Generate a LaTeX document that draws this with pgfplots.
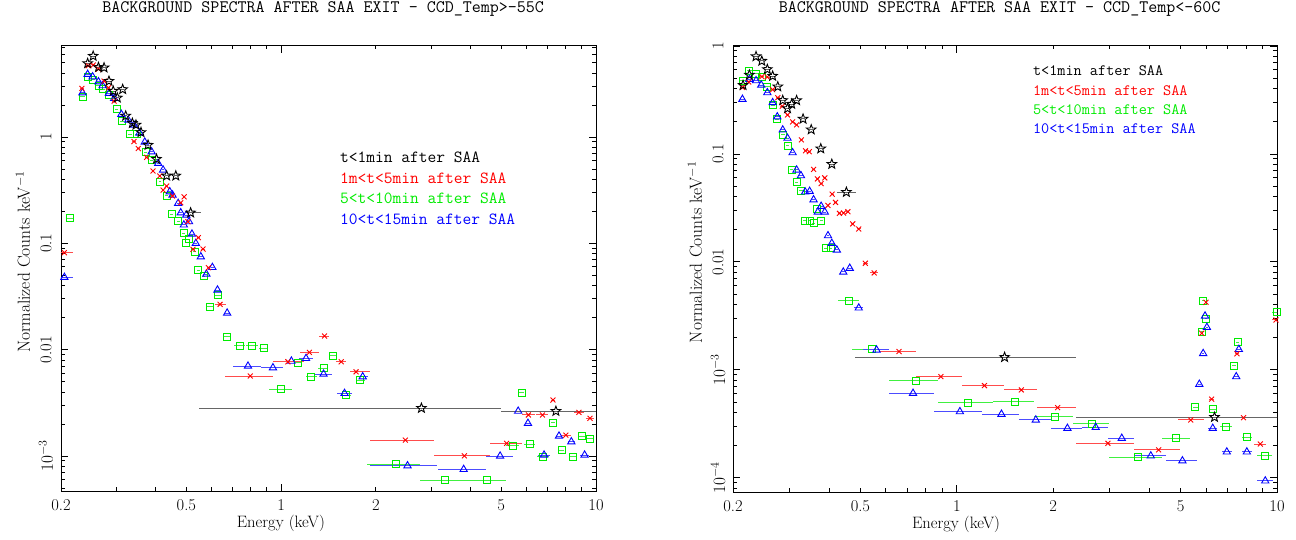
\documentclass[border=0pt]{standalone}
\usepackage{pgfplots}
\pgfplotsset{compat=1.18}
\usepackage{pgfplotstable}
\usetikzlibrary{plotmarks}

\definecolor{pred}{RGB}{255,0,0}
\definecolor{pgreen}{RGB}{0,235,0}
\definecolor{pblue}{RGB}{0,0,255}

\pgfdeclareplotmark{ostar}{%
  \pgfpathmoveto{\pgfpointpolar{90}{\pgfplotmarksize}}%
  \pgfpathlineto{\pgfpointpolar{126}{0.42*\pgfplotmarksize}}%
  \pgfpathlineto{\pgfpointpolar{162}{\pgfplotmarksize}}%
  \pgfpathlineto{\pgfpointpolar{198}{0.42*\pgfplotmarksize}}%
  \pgfpathlineto{\pgfpointpolar{234}{\pgfplotmarksize}}%
  \pgfpathlineto{\pgfpointpolar{270}{0.42*\pgfplotmarksize}}%
  \pgfpathlineto{\pgfpointpolar{306}{\pgfplotmarksize}}%
  \pgfpathlineto{\pgfpointpolar{342}{0.42*\pgfplotmarksize}}%
  \pgfpathlineto{\pgfpointpolar{18}{\pgfplotmarksize}}%
  \pgfpathlineto{\pgfpointpolar{54}{0.42*\pgfplotmarksize}}%
  \pgfpathclose
  \pgfusepathqstroke
}

% ---------------- LEFT PANEL DATA ----------------
\pgfplotstableread{
x y em ep
0.243 4.93 0.004 0.004
0.253 5.78 0.004 0.004
0.263 4.53 0.004 0.004
0.274 4.49 0.004 0.004
0.284 3.36 0.004 0.004
0.293 2.71 0.004 0.004
0.302 2.34 0.004 0.004
0.314 2.81 0.004 0.004
0.321 1.58 0.004 0.004
0.337 1.35 0.004 0.004
0.346 1.30 0.004 0.004
0.359 1.107 0.004 0.004
0.378 0.841 0.004 0.004
0.402 0.621 0.004 0.004
0.433 0.432 0.006 0.006
0.463 0.432 0.006 0.006
0.516 0.194 0.016 0.042
2.79 2.82e-3 2.24 2.21
7.46 2.64e-3 2.46 2.54
}\LBk

\pgfplotstableread{
x y em ep
0.205 0.0816 0.013 0.013
0.233 2.87 0.004 0.004
0.244 4.69 0.004 0.004
0.253 4.76 0.004 0.004
0.263 4.36 0.004 0.004
0.274 3.36 0.004 0.004
0.283 2.91 0.004 0.004
0.295 2.18 0.004 0.004
0.341 0.907 0.004 0.004
0.352 0.78 0.004 0.004
0.374 0.644 0.004 0.004
0.392 0.479 0.004 0.004
0.412 0.43 0.004 0.004
0.422 0.317 0.004 0.004
0.433 0.346 0.004 0.004
0.452 0.279 0.005 0.005
0.48 0.241 0.005 0.005
0.492 0.274 0.005 0.005
0.506 0.16 0.005 0.005
0.525 0.0879 0.006 0.006
0.546 0.113 0.006 0.006
0.565 0.0884 0.007 0.007
0.588 0.059 0.008 0.008
0.64 0.0267 0.025 0.027
0.798 5.65e-3 0.133 0.144
1.051 7.69e-3 0.11 0.13
1.23 9.44e-3 0.086 0.094
1.374 0.01343 0.05 0.05
1.552 7.69e-3 0.06 0.06
1.73 6.19e-3 0.08 0.18
2.48 1.41e-3 0.57 0.57
3.82 1.004e-3 0.77 0.78
5.2 1.315e-3 0.6 0.61
6.1 2.43e-3 0.3 0.3
6.76 2.43e-3 0.3 0.3
7.3 3.36e-3 0.1 0.1
8.02 1.57e-3 0.3 0.3
8.83 2.57e-3 0.3 0.3
9.57 2.26e-3 0.3 0.3
}\LRd

\pgfplotstableread{
x y em ep
0.214 0.172 0.006 0.006
0.234 2.39 0.004 0.004
0.243 3.69 0.004 0.004
0.253 3.44 0.004 0.004
0.263 3.04 0.004 0.004
0.272 2.81 0.004 0.004
0.283 2.48 0.004 0.004
0.300 1.82 0.004 0.004
0.313 1.41 0.004 0.004
0.331 1.06 0.004 0.004
0.348 1.06 0.004 0.004
0.371 0.718 0.004 0.004
0.388 0.608 0.004 0.004
0.412 0.38 0.004 0.004
0.433 0.279 0.004 0.004
0.449 0.1875 0.005 0.005
0.471 0.162 0.005 0.005
0.491 0.124 0.005 0.005
0.51 0.109 0.005 0.005
0.50 0.101 0.005 0.005
0.532 0.0834 0.006 0.006
0.545 0.0561 0.006 0.006
0.568 0.0492 0.007 0.007
0.596 0.0253 0.015 0.015
0.63 0.0326 0.015 0.015
0.675 0.0132 0.02 0.02
0.738 0.01088 0.03 0.03
0.81 0.01088 0.035 0.035
0.88 0.01028 0.03 0.03
1.0 4.23e-3 0.086 0.086
1.13 7.53e-3 0.03 0.03
1.246 5.56e-3 0.05 0.05
1.364 6.67e-3 0.05 0.05
1.46 8.76e-3 0.04 0.04
1.61 3.74e-3 0.06 0.06
1.786 5.18e-3 0.06 0.06
2.32 8.34e-4 0.45 0.44
3.31 5.93e-4 0.55 0.55
4.52 5.93e-4 0.66 0.65
5.43 1.248e-3 0.25 0.25
5.8 3.93e-3 0.1 0.1
6.17 1.29e-3 0.25 0.25
6.8 9.83e-4 0.3 0.3
7.32 2.05e-3 0.1 0.1
7.78 1.136e-3 0.15 0.15
8.47 9.83e-4 0.25 0.25
9.04 1.54e-3 0.2 0.2
9.58 1.46e-3 0.2 0.2
}\LGr

\pgfplotstableread{
x y em ep
0.205 0.0479 0.013 0.013
0.234 2.61 0.004 0.004
0.243 3.89 0.004 0.004
0.252 3.69 0.004 0.004
0.263 3.31 0.004 0.004
0.271 3.04 0.004 0.004
0.284 2.58 0.004 0.004
0.295 2.31 0.004 0.004
0.311 1.635 0.004 0.004
0.327 1.445 0.004 0.004
0.341 1.297 0.004 0.004
0.355 1.09 0.004 0.004
0.369 0.897 0.004 0.004
0.388 0.727 0.004 0.004
0.407 0.566 0.004 0.004
0.422 0.49 0.004 0.004
0.443 0.306 0.005 0.005
0.452 0.285 0.005 0.005
0.471 0.238 0.005 0.005
0.48 0.194 0.005 0.005
0.50 0.1846 0.005 0.005
0.491 0.149 0.005 0.005
0.51 0.16 0.005 0.005
0.521 0.1223 0.006 0.006
0.536 0.1 0.006 0.006
0.556 0.0748 0.007 0.007
0.605 0.0594 0.008 0.008
0.579 0.0514 0.008 0.008
0.628 0.0364 0.01 0.01
0.674 0.0221 0.015 0.015
0.785 7.01e-3 0.083 0.081
0.942 6.76e-3 0.076 0.07
1.078 7.8e-3 0.05 0.05
1.20 8.28e-3 0.06 0.06
1.364 5.89e-3 0.09 0.09
1.59 3.88e-3 0.09 0.09
1.816 5.56e-3 0.07 0.07
2.52 8.09e-4 0.61 0.6
3.8 7.48e-4 0.66 0.67
4.96 9.98e-4 0.49 0.49
5.66 2.64e-3 0.12 0.12
6.08 2.03e-3 0.15 0.15
6.84 1.02e-3 0.3 0.3
7.63 1.54e-3 0.15 0.15
8.35 1.36e-3 0.2 0.2
9.2 1.02e-3 0.3 0.3
}\LBl

% ---------------- RIGHT PANEL DATA ----------------
\pgfplotstableread{
x y em ep
0.215 0.433 0.004 0.004
0.225 0.539 0.004 0.004
0.236 0.80 0.004 0.004
0.246 0.726 0.004 0.004
0.256 0.608 0.004 0.004
0.266 0.527 0.004 0.004
0.276 0.42 0.004 0.004
0.286 0.314 0.004 0.004
0.296 0.264 0.004 0.004
0.305 0.29 0.004 0.004
0.316 0.313 0.004 0.004
0.331 0.211 0.005 0.005
0.351 0.168 0.005 0.005
0.376 0.112 0.006 0.006
0.407 0.0805 0.008 0.008
0.452 0.0443 0.029 0.032
1.41 1.31e-3 0.93 0.94
6.38 3.65e-4 4.03 4.02
}\RBk

\pgfplotstableread{
x y em ep
0.214 0.413 0.004 0.004
0.224 0.464 0.004 0.004
0.246 0.52 0.004 0.004
0.256 0.516 0.004 0.004
0.266 0.394 0.004 0.004
0.276 0.332 0.004 0.004
0.285 0.277 0.004 0.004
0.296 0.23 0.004 0.004
0.307 0.198 0.004 0.004
0.316 0.186 0.004 0.004
0.327 0.135 0.004 0.004
0.337 0.107 0.004 0.004
0.346 0.105 0.004 0.004
0.357 0.0719 0.004 0.004
0.367 0.0587 0.004 0.004
0.377 0.0531 0.004 0.004
0.387 0.06 0.004 0.004
0.396 0.0334 0.004 0.004
0.408 0.0424 0.004 0.004
0.418 0.0356 0.004 0.004
0.43 0.0282 0.005 0.005
0.443 0.0284 0.005 0.005
0.457 0.0292 0.005 0.005
0.473 0.0225 0.006 0.006
0.494 0.0202 0.007 0.007
0.518 9.72e-3 0.01 0.01
0.552 7.91e-3 0.015 0.015
0.66 1.48e-3 0.085 0.085
0.892 8.67e-4 0.146 0.146
1.22 7.16e-4 0.18 0.18
1.59 6.53e-4 0.19 0.19
2.065 4.48e-4 0.285 0.285
2.965 2.09e-4 0.615 0.615
4.27 1.82e-4 0.69 0.7
5.38 3.44e-4 0.48 0.52
5.82 2.19e-3 0.05 0.05
6.0 4.23e-3 0.05 0.05
6.25 5.36e-4 0.1 0.1
7.5 1.41e-3 0.1 0.1
7.86 3.61e-4 0.4 0.4
8.87 2.06e-4 0.4 0.4
9.93 2.9e-3 0.3 0.3
}\RRd

\pgfplotstableread{
x y em ep
0.215 0.474 0.004 0.004
0.225 0.587 0.004 0.004
0.236 0.551 0.004 0.004
0.246 0.522 0.004 0.004
0.256 0.417 0.004 0.004
0.266 0.284 0.004 0.004
0.275 0.21 0.004 0.004
0.286 0.15 0.004 0.004
0.296 0.119 0.004 0.004
0.305 0.0711 0.004 0.004
0.316 0.0547 0.004 0.004
0.326 0.0456 0.004 0.004
0.336 0.024 0.004 0.004
0.347 0.024 0.004 0.004
0.357 0.0228 0.004 0.004
0.366 0.0312 0.004 0.004
0.377 0.024 0.004 0.004
0.391 0.0134 0.005 0.005
0.404 0.0134 0.005 0.005
0.46 4.38e-3 0.034 0.034
0.5425 1.55e-3 0.0715 0.0715
0.744 7.91e-4 0.13 0.13
1.087 4.98e-4 0.213 0.213
1.52 5.08e-4 0.22 0.22
2.025 3.7e-4 0.285 0.285
2.645 3.16e-4 0.335 0.335
3.67 1.56e-4 0.69 0.69
4.845 2.33e-4 0.485 0.485
5.55 4.52e-4 0.1 0.1
5.82 2.27e-3 0.05 0.05
5.89 4.38e-3 0.05 0.05
6.0 2.97e-3 0.05 0.05
6.32 4.33e-4 0.15 0.15
6.92 2.98e-4 0.3 0.3
7.36 1.09e-3 0.1 0.1
7.53 1.8e-3 0.1 0.1
8.05 2.37e-4 0.3 0.3
9.14 1.6e-4 0.5 0.5
9.97 3.42e-3 0.3 0.3
}\RGr

\pgfplotstableread{
x y em ep
0.214 0.321 0.004 0.004
0.225 0.492 0.004 0.004
0.236 0.477 0.004 0.004
0.245 0.435 0.004 0.004
0.256 0.37 0.004 0.004
0.266 0.299 0.004 0.004
0.275 0.221 0.004 0.004
0.286 0.167 0.004 0.004
0.296 0.14 0.004 0.004
0.307 0.1028 0.004 0.004
0.316 0.0711 0.004 0.004
0.326 0.063 0.004 0.004
0.336 0.0445 0.004 0.004
0.347 0.0451 0.004 0.004
0.357 0.0377 0.004 0.004
0.368 0.029 0.004 0.004
0.377 0.0328 0.004 0.004
0.387 0.029 0.004 0.004
0.396 0.0175 0.004 0.004
0.407 0.0149 0.005 0.005
0.422 0.0129 0.005 0.005
0.442 8.07e-3 0.005 0.005
0.463 8.75e-3 0.006 0.006
0.494 3.75e-3 0.015 0.015
0.5615 1.53e-3 0.0505 0.0505
0.73 6.08e-4 0.118 0.118
1.0225 4.11e-4 0.1745 0.1745
1.3785 3.89e-4 0.1815 0.1815
1.765 3.44e-4 0.205 0.205
2.215 2.88e-4 0.245 0.245
2.715 2.94e-4 0.255 0.255
3.275 2.33e-4 0.305 0.305
4.035 1.6e-4 0.455 0.455
5.065 1.44e-4 0.575 0.575
5.72 7.37e-4 0.05 0.05
5.88 1.42e-3 0.05 0.05
5.96 3.16e-3 0.05 0.05
6.04 2.48e-3 0.05 0.05
6.3 2.88e-4 0.2 0.2
6.97 1.74e-4 0.25 0.25
7.46 8.67e-4 0.1 0.1
7.6 1.55e-3 0.1 0.1
8.05 1.74e-4 0.3 0.3
9.19 9.38e-5 0.5 0.5
}\RBl

\newcommand{\tkf}{\fontsize{16.5}{16.5}\selectfont}

\pgfplotsset{
  specaxis/.style={
    scale only axis,
    xmin=0.2, xmax=10,
    axis line style={line width=0.9pt},
    tick style={line width=0.9pt, black},
    tick align=inside,
    major tick length=7.5pt,
    minor tick length=3.7pt,
    xtick={1,10}, xticklabels={{\tkf 1},{\tkf 10}},
    extra x ticks={0.2,0.5,2,5},
    extra x tick labels={{\tkf 0.2},{\tkf 0.5},{\tkf 2},{\tkf 5}},
    extra x tick style={major tick length=3.7pt},
    minor xtick={0.3,0.4,0.6,0.7,0.8,0.9,3,4,6,7,8,9},
    xticklabel style={font=\tkf, anchor=center, yshift=-14pt},
    yticklabel style={font=\tkf, xshift=-15pt, rotate=90, anchor=center},
    xlabel={\fontsize{16.5}{16.5}\selectfont Energy (keV)},
    ylabel={\fontsize{17.5}{17.5}\selectfont Normalized Counts keV$^{-1}$},
    title style={font=\ttfamily\fontsize{17.5}{17.5}\selectfont, at={(0.49,1)}, anchor=center, yshift=30.5pt},
  },
  serbk/.style={only marks, draw=black, mark=ostar, mark size=5pt, mark options={line width=0.9pt, fill=none},
    error bars/x dir=both, error bars/x explicit, error bars/error mark=none, error bars/error bar style={line width=1pt, black!60}},
  serrd/.style={only marks, draw=pred, mark=x, mark size=3.5pt, mark options={line width=0.9pt},
    error bars/x dir=both, error bars/x explicit, error bars/error mark=none, error bars/error bar style={line width=1pt, pred!70}},
  sergr/.style={only marks, draw=pgreen, mark=square, mark size=3.5pt, mark options={line width=0.9pt, fill=none},
    error bars/x dir=both, error bars/x explicit, error bars/error mark=none, error bars/error bar style={line width=1pt, pgreen!75}},
  serbl/.style={only marks, draw=pblue, mark=triangle, mark size=4.2pt, mark options={line width=0.9pt, fill=none},
    error bars/x dir=both, error bars/x explicit, error bars/error mark=none, error bars/error bar style={line width=1pt, pblue!70}},
}

\begin{document}
\begin{tikzpicture}[x=1pt,y=1pt]
\useasboundingbox (0,0) rectangle (1296,-539);

% ---------------- LEFT ----------------
\begin{axis}[xmode=log, ymode=log, specaxis,
  at={(61pt,-45.5pt)}, anchor=north west,
  width=535pt, height=445.5pt,
  ymin=4.68e-4, ymax=7.26,
  ytick={1e-3,1e-2,1e-1,1},
  yticklabels={{\tkf $10^{-3}$},{\tkf 0.01},{\tkf 0.1},{\tkf 1}},
  minor ytick={5e-4,6e-4,7e-4,8e-4,9e-4,2e-3,3e-3,4e-3,5e-3,6e-3,7e-3,8e-3,9e-3,0.02,0.03,0.04,0.05,0.06,0.07,0.08,0.09,0.2,0.3,0.4,0.5,0.6,0.7,0.8,0.9,2,3,4,5,6,7},
  title={BACKGROUND SPECTRA AFTER SAA EXIT - CCD\_Temp>-55C},
  xlabel style={at={(0.411,0)}, anchor=center, yshift=-32pt},
  ylabel style={at={(-0.071,0.514)}, anchor=center},
]
\addplot[sergr] table[x=x, y=y, x error minus=em, x error plus=ep] {\LGr};
\addplot[serbl] table[x=x, y=y, x error minus=em, x error plus=ep] {\LBl};
\addplot[serrd] table[x=x, y=y, x error minus=em, x error plus=ep] {\LRd};
\addplot[serbk] table[x=x, y=y, x error minus=em, x error plus=ep] {\LBk};
\node[anchor=west, text=black, font=\ttfamily\fontsize{17}{17}\selectfont] at (rel axis cs:0.515,0.750) {t<1min after SAA};
\node[anchor=west, text=pred, font=\ttfamily\fontsize{17}{17}\selectfont] at (rel axis cs:0.515,0.703) {1m<t<5min after SAA};
\node[anchor=west, text=pgreen, font=\ttfamily\fontsize{17}{17}\selectfont] at (rel axis cs:0.515,0.656) {5<t<10min after SAA};
\node[anchor=west, text=pblue, font=\ttfamily\fontsize{17}{17}\selectfont] at (rel axis cs:0.515,0.609) {10<t<15min after SAA};
\end{axis}

% ---------------- RIGHT ----------------
\begin{axis}[xmode=log, ymode=log, specaxis,
  at={(733pt,-45.5pt)}, anchor=north west,
  width=544pt, height=446.5pt,
  ymin=7.4e-5, ymax=1.01,
  ytick={1e-4,1e-3,1e-2,1e-1,1},
  yticklabels={{\tkf $10^{-4}$},{\tkf $10^{-3}$},{\tkf 0.01},{\tkf 0.1},{\tkf 1}},
  minor ytick={8e-5,9e-5,2e-4,3e-4,4e-4,5e-4,6e-4,7e-4,8e-4,9e-4,2e-3,3e-3,4e-3,5e-3,6e-3,7e-3,8e-3,9e-3,0.02,0.03,0.04,0.05,0.06,0.07,0.08,0.09,0.2,0.3,0.4,0.5,0.6,0.7,0.8,0.9},
  title={BACKGROUND SPECTRA AFTER SAA EXIT - CCD\_Temp<-60C},
  xlabel style={at={(0.410,0)}, anchor=center, yshift=-32pt},
  ylabel style={at={(-0.070,0.537)}, anchor=center},
]
\addplot[sergr] table[x=x, y=y, x error minus=em, x error plus=ep] {\RGr};
\addplot[serbl] table[x=x, y=y, x error minus=em, x error plus=ep] {\RBl};
\addplot[serrd] table[x=x, y=y, x error minus=em, x error plus=ep] {\RRd};
\addplot[serbk] table[x=x, y=y, x error minus=em, x error plus=ep] {\RBk};
\node[anchor=west, text=black, font=\ttfamily\fontsize{15.8}{15.8}\selectfont] at (rel axis cs:0.545,0.943) {t<1min after SAA};
\node[anchor=west, text=pred, font=\ttfamily\fontsize{15.8}{15.8}\selectfont] at (rel axis cs:0.545,0.900) {1m<t<5min after SAA};
\node[anchor=west, text=pgreen, font=\ttfamily\fontsize{15.8}{15.8}\selectfont] at (rel axis cs:0.545,0.856) {5<t<10min after SAA};
\node[anchor=west, text=pblue, font=\ttfamily\fontsize{15.8}{15.8}\selectfont] at (rel axis cs:0.545,0.813) {10<t<15min after SAA};
\end{axis}
\end{tikzpicture}
\end{document}
